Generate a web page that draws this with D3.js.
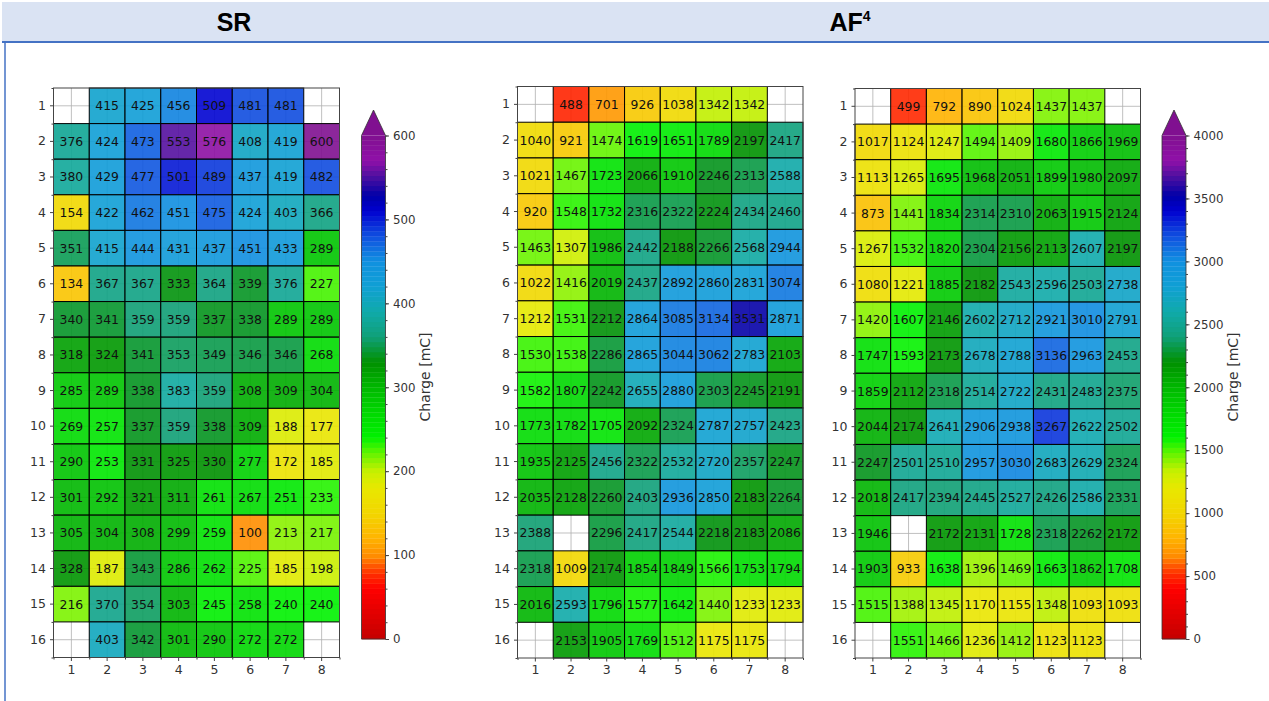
<!DOCTYPE html>
<html>
<head>
<meta charset="utf-8">
<script src="https://cdn.jsdelivr.net/npm/d3@7"></script>
<style>
  body { margin: 0; background: #fff; }
  svg { display: block; }
  .tick text { fill: #333; }
  .domain { display: none; }
</style>
</head>
<body>
<svg id="chart" width="1269" height="701"></svg>
<script>
// rows 1..16, cols 1..8 ; null = empty cell
const rowLabels = d3.range(1, 17);
const colLabels = d3.range(1, 9);

const srValues = [
  [null, 415, 425, 456, 509, 481, 481, null],
  [376, 424, 473, 553, 576, 408, 419, 600],
  [380, 429, 477, 501, 489, 437, 419, 482],
  [154, 422, 462, 451, 475, 424, 403, 366],
  [351, 415, 444, 431, 437, 451, 433, 289],
  [134, 367, 367, 333, 364, 339, 376, 227],
  [340, 341, 359, 359, 337, 338, 289, 289],
  [318, 324, 341, 353, 349, 346, 346, 268],
  [285, 289, 338, 383, 359, 308, 309, 304],
  [269, 257, 337, 359, 338, 309, 188, 177],
  [290, 253, 331, 325, 330, 277, 172, 185],
  [301, 292, 321, 311, 261, 267, 251, 233],
  [305, 304, 308, 299, 259, 100, 213, 217],
  [328, 187, 343, 286, 262, 225, 185, 198],
  [216, 370, 354, 303, 245, 258, 240, 240],
  [null, 403, 342, 301, 290, 272, 272, null]
];

const af4Values = [
  [null, 488, 701, 926, 1038, 1342, 1342, null],
  [1040, 921, 1474, 1619, 1651, 1789, 2197, 2417],
  [1021, 1467, 1723, 2066, 1910, 2246, 2313, 2588],
  [920, 1548, 1732, 2316, 2322, 2224, 2434, 2460],
  [1463, 1307, 1986, 2442, 2188, 2266, 2568, 2944],
  [1022, 1416, 2019, 2437, 2892, 2860, 2831, 3074],
  [1212, 1531, 2212, 2864, 3085, 3134, 3531, 2871],
  [1530, 1538, 2286, 2865, 3044, 3062, 2783, 2103],
  [1582, 1807, 2242, 2655, 2880, 2303, 2245, 2191],
  [1773, 1782, 1705, 2092, 2324, 2787, 2757, 2423],
  [1935, 2125, 2456, 2322, 2532, 2720, 2357, 2247],
  [2035, 2128, 2260, 2403, 2936, 2850, 2183, 2264],
  [2388, null, 2296, 2417, 2544, 2218, 2183, 2086],
  [2318, 1009, 2174, 1854, 1849, 1566, 1753, 1794],
  [2016, 2593, 1796, 1577, 1642, 1440, 1233, 1233],
  [null, 2153, 1905, 1769, 1512, 1175, 1175, null]
];

const af4Values2 = [
  [null, 499, 792, 890, 1024, 1437, 1437, null],
  [1017, 1124, 1247, 1494, 1409, 1680, 1866, 1969],
  [1113, 1265, 1695, 1968, 2051, 1899, 1980, 2097],
  [873, 1441, 1834, 2314, 2310, 2063, 1915, 2124],
  [1267, 1532, 1820, 2304, 2156, 2113, 2607, 2197],
  [1080, 1221, 1885, 2182, 2543, 2596, 2503, 2738],
  [1420, 1607, 2146, 2602, 2712, 2921, 3010, 2791],
  [1747, 1593, 2173, 2678, 2788, 3136, 2963, 2453],
  [1859, 2112, 2318, 2514, 2722, 2431, 2483, 2375],
  [2044, 2174, 2641, 2906, 2938, 3267, 2622, 2502],
  [2247, 2501, 2510, 2957, 3030, 2683, 2629, 2324],
  [2018, 2417, 2394, 2445, 2527, 2426, 2586, 2331],
  [1946, null, 2172, 2131, 1728, 2318, 2262, 2172],
  [1903, 933, 1638, 1396, 1469, 1663, 1862, 1708],
  [1515, 1388, 1345, 1170, 1155, 1348, 1093, 1093],
  [null, 1551, 1466, 1236, 1412, 1123, 1123, null]
];

const srTicks = [0, 100, 200, 300, 400, 500, 600];
const af4Ticks = [0, 500, 1000, 1500, 2000, 2500, 3000, 3500, 4000];

// colour map stops (fraction of max, colour)
const cmapStops = [0, 0.1, 0.13, 0.165, 0.2, 0.25, 0.3, 0.333, 0.37, 0.4, 0.45, 0.5, 0.55, 0.6, 0.65, 0.7, 0.75, 0.8, 0.85, 0.88, 0.92, 0.95, 1];
const cmapColors = ['#c40000', '#ff0000', '#ff3000', '#ff8c00', '#ffb400', '#f2d600', '#e8e800', '#c8f000', '#60f400', '#00f200', '#00d800', '#00b800', '#009000', '#10a078', '#10aaaa', '#10a0d4', '#1090e0', '#1050e0', '#0000d0', '#0000a8', '#5010a0', '#9010a8', '#801090'];

const svg = d3.select('#chart');

// header band
svg.append('rect').attr('x', 2).attr('y', 2).attr('width', 1267).attr('height', 39).attr('fill', '#dae3f3');
svg.append('line').attr('x1', 2).attr('x2', 1269).attr('y1', 42).attr('y2', 42).attr('stroke', '#4472c4').attr('stroke-width', 2);
svg.append('line').attr('x1', 5).attr('x2', 5).attr('y1', 42).attr('y2', 701).attr('stroke', '#4472c4').attr('stroke-width', 1.5);

svg.append('text').attr('x', 234).attr('y', 31).attr('text-anchor', 'middle')
  .style('font', 'bold 25px "Liberation Sans", Arial, sans-serif').text('SR');
const af = svg.append('text').attr('x', 850).attr('y', 31).attr('text-anchor', 'middle')
  .style('font', 'bold 25px "Liberation Sans", Arial, sans-serif');
af.append('tspan').text('AF');
af.append('tspan').attr('dy', -10).style('font-size', '14px').text('4');

const panels = [
  { values: srValues, left: 53.5, right: 339.5, top: 88, bottom: 657.5, vmax: 600, cb: { left: 361.5, ticks: srTicks, minor: 20 } },
  { values: af4Values, left: 517.5, right: 803, top: 86.5, bottom: 658, vmax: 4000, cb: null },
  { values: af4Values2, left: 855, right: 1140.5, top: 88.5, bottom: 658, vmax: 4000, cb: { left: 1162, ticks: af4Ticks, minor: 100 } }
];

const numFont = '12.4px "DejaVu Sans", sans-serif';
const tickFont = '12.5px "DejaVu Sans", sans-serif';

panels.forEach(p => {
  const color = d3.scaleLinear()
    .domain(cmapStops.map(s => s * p.vmax))
    .range(cmapColors)
    .clamp(true);

  const x = d3.scaleBand().domain(colLabels).range([p.left, p.right]);
  const y = d3.scaleBand().domain(rowLabels).range([p.top, p.bottom]);
  const xLin = d3.scaleLinear().domain([0.5, 8.5]).range([p.left, p.right]);
  const yLin = d3.scaleLinear().domain([0.5, 16.5]).range([p.top, p.bottom]);

  const g = svg.append('g');

  // faint grid at tick centres (under the cells)
  g.selectAll('.gx').data(colLabels).enter().append('line')
    .attr('x1', d => x(d) + x.bandwidth() / 2).attr('x2', d => x(d) + x.bandwidth() / 2)
    .attr('y1', p.top).attr('y2', p.bottom)
    .attr('stroke', '#b0b0b0').attr('stroke-width', 0.8);
  g.selectAll('.gy').data(rowLabels).enter().append('line')
    .attr('y1', d => y(d) + y.bandwidth() / 2).attr('y2', d => y(d) + y.bandwidth() / 2)
    .attr('x1', p.left).attr('x2', p.right)
    .attr('stroke', '#b0b0b0').attr('stroke-width', 0.8);

  const cells = [];
  p.values.forEach((row, i) => row.forEach((v, j) => {
    if (v !== null) cells.push({ r: rowLabels[i], c: colLabels[j], v: v });
  }));

  g.selectAll('.cell').data(cells).enter().append('rect')
    .attr('x', d => x(d.c)).attr('y', d => y(d.r))
    .attr('width', x.bandwidth()).attr('height', y.bandwidth())
    .attr('fill', d => color(d.v)).attr('fill-opacity', 0.9)
    .attr('stroke', '#000').attr('stroke-width', 1);

  g.selectAll('.num').data(cells).enter().append('text')
    .attr('x', d => x(d.c) + x.bandwidth() / 2)
    .attr('y', d => y(d.r) + y.bandwidth() / 2)
    .attr('dy', '0.36em').attr('text-anchor', 'middle')
    .style('font', numFont).attr('fill', '#111')
    .text(d => d.v);

  // frame
  g.append('rect').attr('x', p.left).attr('y', p.top)
    .attr('width', p.right - p.left).attr('height', p.bottom - p.top)
    .attr('fill', 'none').attr('stroke', '#444').attr('stroke-width', 1);

  // axes
  const yAxis = g.append('g').attr('transform', `translate(${p.left},0)`)
    .call(d3.axisLeft(y).tickSize(3.5).tickPadding(4));
  yAxis.selectAll('text').style('font', tickFont);
  yAxis.selectAll('line').attr('stroke', '#444');
  g.append('g').attr('transform', `translate(${p.left},0)`)
    .call(d3.axisLeft(yLin).tickValues(d3.range(0.5, 17, 1)).tickSize(2).tickFormat(''))
    .selectAll('line').attr('stroke', '#444');

  const xAxis = g.append('g').attr('transform', `translate(0,${p.bottom})`)
    .call(d3.axisBottom(x).tickSize(3.5).tickPadding(4));
  xAxis.selectAll('text').style('font', tickFont);
  xAxis.selectAll('line').attr('stroke', '#444');
  g.append('g').attr('transform', `translate(0,${p.bottom})`)
    .call(d3.axisBottom(xLin).tickValues(d3.range(0.5, 9, 1)).tickSize(2).tickFormat(''))
    .selectAll('line').attr('stroke', '#444');

  if (!p.cb) return;

  // colour bar
  const cbTop = 135.5, cbBottom = 639, cbW = 24, tip = 110;
  const cy = d3.scaleLinear().domain([0, p.vmax]).range([cbBottom, cbTop]);
  const steps = d3.range(0, p.vmax, p.vmax / 100);
  const cb = svg.append('g');
  cb.selectAll('.band').data(steps).enter().append('rect')
    .attr('x', p.cb.left).attr('width', cbW)
    .attr('y', d => cy(d + p.vmax / 100))
    .attr('height', d => cy(d) - cy(d + p.vmax / 100) + 0.3)
    .attr('fill', d => color(d + p.vmax / 200));
  cb.append('path')
    .attr('d', `M${p.cb.left},${cbTop}L${p.cb.left + cbW / 2},${tip}L${p.cb.left + cbW},${cbTop}Z`)
    .attr('fill', color(p.vmax));
  cb.append('path')
    .attr('d', `M${p.cb.left},${cbBottom}L${p.cb.left},${cbTop}L${p.cb.left + cbW / 2},${tip}L${p.cb.left + cbW},${cbTop}L${p.cb.left + cbW},${cbBottom}Z`)
    .attr('fill', 'none').attr('stroke', '#333').attr('stroke-width', 0.8);

  const cbAxis = cb.append('g').attr('transform', `translate(${p.cb.left + cbW},0)`)
    .call(d3.axisRight(cy).tickValues(p.cb.ticks).tickFormat(d3.format('d')).tickSize(3.5).tickPadding(4));
  cbAxis.selectAll('text').style('font', '11.8px "DejaVu Sans", sans-serif');
  cbAxis.selectAll('line').attr('stroke', '#444');
  cb.append('g').attr('transform', `translate(${p.cb.left + cbW},0)`)
    .call(d3.axisRight(cy).tickValues(d3.range(0, p.vmax + 1, p.cb.minor)).tickSize(2).tickFormat(''))
    .selectAll('line').attr('stroke', '#444');

  const labelX = p.cb.left + cbW + (p.vmax >= 1000 ? 52 : 44);
  cb.append('text')
    .attr('transform', `translate(${labelX},377) rotate(-90)`)
    .attr('text-anchor', 'middle')
    .style('font', '14px "DejaVu Sans", sans-serif').attr('fill', '#333')
    .text('Charge [mC]');
});
</script>
</body>
</html>
